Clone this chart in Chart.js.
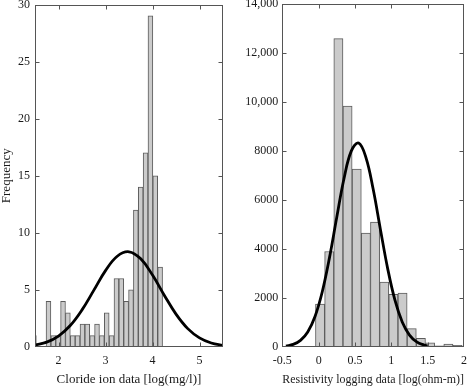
<!DOCTYPE html>
<html lang="en">
<head>
<meta charset="UTF-8">
<title>Chloride / resistivity histograms</title>
<script src="https://cdn.jsdelivr.net/npm/chart.js"></script>
<style>
  html, body { margin: 0; padding: 0; background: #fff; overflow: hidden; }
  #wrap { position: relative; width: 474px; height: 387px; }
  canvas { position: absolute; top: 0; }
</style>
</head>
<body>
<div id="wrap">
  <canvas id="left" width="237" height="387" style="left:0;width:237px;height:387px"></canvas>
  <canvas id="right" width="237" height="387" style="left:237px;width:237px;height:387px"></canvas>
</div>
<script>
// left panel: chloride ion histogram (bin centres, counts) + fitted normal curve
const clBins = [1.4766, 1.5799, 1.6832, 1.7865, 1.8898, 1.9931, 2.0964, 2.1997, 2.3030,
  2.4063, 2.5096, 2.6129, 2.7162, 2.8195, 2.9228, 3.0261, 3.1294, 3.2327, 3.3360,
  3.4393, 3.5426, 3.6459, 3.7492, 3.8525, 3.9558, 4.0591, 4.1624];
const clCounts = [1, 0, 0, 4, 1, 1, 4, 3, 1, 1, 2, 2, 1, 2, 1, 3, 1, 6, 6, 4, 5, 12, 14, 17, 29, 15, 7];
const clFitX = [1.5, 1.75, 2, 2.25, 2.5, 2.75, 3, 3.25, 3.5, 3.75, 4, 4.25, 4.5, 4.75, 5, 5.25, 5.5];
const clFitY = [0.17, 0.43, 0.96, 1.88, 3.25, 4.96, 6.69, 7.95, 8.34, 7.72, 6.30, 4.54, 2.88, 1.61, 0.80, 0.35, 0.13];
const clXTicks = [2, 3, 4, 5];
const clXLabels = ['2', '3', '4', '5'];
const clYTicks = [0, 5, 10, 15, 20, 25, 30];
const clYLabels = ['0', '5', '10', '15', '20', '25', '30'];

// right panel: resistivity logging histogram + fitted normal curve
const rsBins = [0.0196, 0.1457, 0.2718, 0.3979, 0.5240, 0.6501, 0.7762, 0.9023,
  1.0284, 1.1545, 1.2806, 1.4067, 1.5328, 1.6589, 1.7850, 1.9111];
const rsCounts = [1750, 3900, 12600, 9840, 7270, 4650, 5100, 2650, 2150, 2200, 750, 350, 170, 50, 120, 70];
const rsFitX = [-0.45, -0.35, -0.25, -0.15, -0.05, 0.05, 0.15, 0.25, 0.35, 0.45, 0.55,
  0.65, 0.75, 0.85, 0.95, 1.05, 1.15, 1.25, 1.35, 1.45, 1.5];
const rsFitY = [38, 107, 272, 615, 1246, 2258, 3661, 5311, 6896, 8012, 8330,
  7749, 6451, 4805, 3203, 1911, 1020, 487, 208, 80, 47];
const rsXTicks = [-0.5, 0, 0.5, 1, 1.5, 2];
const rsXLabels = ['-0.5', '0', '0.5', '1', '1.5', '2'];
const rsYTicks = [0, 2000, 4000, 6000, 8000, 10000, 12000, 14000];
const rsYLabels = ['0', '2000', '4000', '6000', '8000', '10,000', '12,000', '14,000'];

Chart.defaults.font.family = "'Liberation Serif', 'DejaVu Serif', serif";
Chart.defaults.color = '#1a1a1a';

// box round the plot area with inward tick marks on all four sides
const frame = {
  id: 'frame',
  afterDatasetsDraw(chart) {
    const { ctx, chartArea: a, scales: { x, y } } = chart;
    const L = Math.round(a.left) + 0.5, R = Math.round(a.right) - 0.5;
    const T = Math.round(a.top) + 0.5, B = Math.round(a.bottom) - 0.5;
    ctx.save();
    ctx.strokeStyle = '#555';
    ctx.lineWidth = 1;
    ctx.beginPath();
    x.ticks.forEach(t => {
      const px = Math.round(x.getPixelForValue(t.value)) + 0.5;
      if (px <= L + 1 || px >= R - 1) return;
      ctx.moveTo(px, B); ctx.lineTo(px, B - 4);
      ctx.moveTo(px, T); ctx.lineTo(px, T + 4);
    });
    y.ticks.forEach(t => {
      const py = Math.round(y.getPixelForValue(t.value)) + 0.5;
      if (py <= T + 1 || py >= B - 1) return;
      ctx.moveTo(L, py); ctx.lineTo(L + 4, py);
      ctx.moveTo(R, py); ctx.lineTo(R - 4, py);
    });
    ctx.stroke();
    ctx.strokeRect(L, T, R - L, B - T);
    ctx.restore();
  }
};

function makeHist(id, o) {
  return new Chart(document.getElementById(id), {
    type: 'bar',
    data: {
      datasets: [
        {
          type: 'line',
          data: o.fitX.map((v, i) => ({ x: v, y: o.fitY[i] })),
          borderColor: '#000',
          borderWidth: 2.8,
          pointRadius: 0,
          tension: 0.4,
          fill: false
        },
        {
          data: o.bins.map((v, i) => ({ x: v, y: o.counts[i] })),
          backgroundColor: '#cbcbcb',
          borderColor: '#5c5c5c',
          borderWidth: 1,
          barPercentage: 1,
          categoryPercentage: 1,
          clip: 0
        }
      ]
    },
    options: {
      responsive: false,
      animation: false,
      layout: { padding: { left: 0, right: o.padRight, top: o.padTop, bottom: 0 } },
      plugins: { legend: { display: false }, tooltip: { enabled: false } },
      scales: {
        x: {
          type: 'linear',
          offset: false,
          min: o.xMin, max: o.xMax,
          grid: { display: false, drawTicks: false },
          border: { display: false },
          afterBuildTicks: ax => { ax.ticks = o.xTicks.map(v => ({ value: v })); },
          afterFit: ax => { ax.height = 40; },
          ticks: {
            autoSkip: false, maxRotation: 0, padding: 7,
            font: { size: 12 },
            callback: (v, i) => o.xLabels[i]
          },
          title: {
            display: true, text: o.xTitle,
            font: { size: 13 }, padding: { top: 0, bottom: 0 }
          }
        },
        y: {
          min: o.yMin, max: o.yMax,
          grid: { display: false, drawTicks: false },
          border: { display: false },
          afterBuildTicks: ax => { ax.ticks = o.yTicks.map(v => ({ value: v })); },
          afterFit: ax => { ax.width = o.yWidth; ax.paddingTop = 0; ax.paddingBottom = 0; },
          ticks: {
            autoSkip: false, padding: o.yPad,
            font: { size: 12 },
            callback: (v, i) => o.yLabels[i]
          },
          title: {
            display: !!o.yTitle, text: o.yTitle,
            font: { size: 13, lineHeight: 1 }, padding: { top: 0, bottom: 0 }
          }
        }
      }
    },
    plugins: [frame]
  });
}

makeHist('left', {
  bins: clBins, counts: clCounts, fitX: clFitX, fitY: clFitY,
  xMin: 1.5, xMax: 5.5, yMin: 0, yMax: 30,
  xTicks: clXTicks, xLabels: clXLabels, yTicks: clYTicks, yLabels: clYLabels,
  xTitle: 'Cloride ion data [log(mg/l)]', yTitle: 'Frequency',
  yWidth: 35, yPad: 5, padRight: 14, padTop: 4.5
});

makeHist('right', {
  bins: rsBins, counts: rsCounts, fitX: rsFitX, fitY: rsFitY,
  xMin: -0.5, xMax: 2, yMin: 0, yMax: 14000,
  xTicks: rsXTicks, xLabels: rsXLabels, yTicks: rsYTicks, yLabels: rsYLabels,
  xTitle: 'Resistivity logging data [log(ohm-m)]', yTitle: '',
  yWidth: 45.3, yPad: 4, padRight: 3.3, padTop: 4.3
});
</script>
</body>
</html>
